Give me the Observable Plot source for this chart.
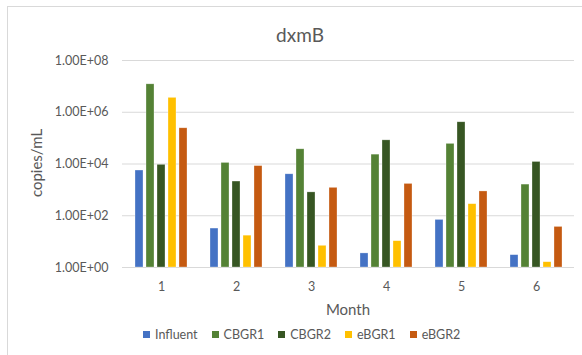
<!DOCTYPE html>
<html>
<head>
<meta charset="utf-8">
<script src="https://cdn.jsdelivr.net/npm/d3@7"></script>
<script src="https://cdn.jsdelivr.net/npm/@observablehq/plot@0.6"></script>
<style>
  html, body { margin: 0; padding: 0; background: #fff; }
  #wrap { position: relative; width: 582px; height: 355px; overflow: hidden; font-family: Lato, "Open Sans", sans-serif; color: #595959; }
  #border { position: absolute; left: 7px; top: 6px; width: 600px; height: 400px; border: 1px solid #d9d9d9; box-sizing: border-box; }
  #title { position: absolute; left: 0; width: 600px; top: 23px; text-align: center; font-size: 19px; }
  #ylabel { position: absolute; left: 36px; top: 163px; transform: translate(-50%, -50%) rotate(-90deg); font-size: 15px; white-space: nowrap; }
  #xlabel { position: absolute; left: 348px; top: 309px; transform: translate(-50%, -50%); font-size: 15px; }
  #legend { position: absolute; left: 143px; top: 327px; display: flex; align-items: center; font-size: 12.5px; white-space: nowrap; }
  .item { display: flex; align-items: center; margin-right: 14px; }
  .sw { width: 7px; height: 7px; margin-right: 5px; }
  .layer { position: absolute; left: 0; top: 0; }
</style>
</head>
<body>
<div id="wrap">
  <div id="border"></div>
  <div id="grid" class="layer"></div>
  <div id="chart" class="layer"></div>
  <div id="title">dxmB</div>
  <div id="ylabel">copies/mL</div>
  <div id="xlabel">Month</div>
  <div id="legend"></div>
</div>
<script>
const months = [1, 2, 3, 4, 5, 6];
const series = ["Influent", "CBGR1", "CBGR2", "eBGR1", "eBGR2"];
const colors = ["#4472C4", "#548235", "#375623", "#FFC000", "#C55A11"];
const influent = [5.6e3, 32, 4.0e3, 3.5, 69, 3.0];
const cbgr1 = [1.2e7, 1.1e4, 3.7e4, 2.3e4, 6.0e4, 1.6e3];
const cbgr2 = [9.3e3, 2.1e3, 800, 8.2e4, 4.1e5, 1.2e4];
const ebgr1 = [3.6e6, 17, 6.9, 10.4, 280, 1.6];
const ebgr2 = [2.4e5, 8.3e3, 1.2e3, 1.7e3, 870, 37];
const yTicks = [1, 1e2, 1e4, 1e6, 1e8];

const values = [influent, cbgr1, cbgr2, ebgr1, ebgr2];
const data = [];
months.forEach((m, i) => series.forEach((s, j) => data.push({month: m, series: s, value: values[j][i]})));

const fmt = d => {
  const e = Math.round(Math.log10(d));
  return "1.00E+" + String(e).padStart(2, "0");
};

const common = {
  width: 582,
  height: 300,
  marginLeft: 122,
  marginRight: 8,
  marginTop: 60,
  marginBottom: 33,
  style: {fontFamily: "Lato, 'Open Sans', sans-serif", color: "#595959", background: "transparent", overflow: "visible"}
};

const grid = Plot.plot({
  ...common,
  y: {type: "log", domain: [1, 1e8], label: null},
  marks: [
    Plot.ruleY(yTicks, {stroke: "#d9d9d9", strokeWidth: 1.2}),
    Plot.axisY({ticks: yTicks, tickFormat: fmt, tickSize: 0, tickPadding: 14, fontSize: 12.5, label: null, color: "#595959"})
  ]
});
document.getElementById("grid").appendChild(grid);

const chart = Plot.plot({
  ...common,
  y: {type: "log", domain: [1, 1e8], axis: null},
  fx: {domain: months, paddingInner: 0.2, paddingOuter: 0.105, label: null, axis: null},
  x: {domain: series, padding: 0.24, axis: null},
  color: {domain: series, range: colors},
  marks: [
    Plot.barY(data, {fx: "month", x: "series", y1: 1, y2: "value", fill: "series", stroke: "#ffffff", strokeOpacity: 0.5, strokeWidth: 0.6}),
    Plot.axisFx({anchor: "bottom", tickSize: 0, tickPadding: 15, fontSize: 12.5, label: null, color: "#595959"})
  ]
});
document.getElementById("chart").appendChild(chart);

const legend = document.getElementById("legend");
series.forEach((s, i) => {
  const it = document.createElement("div");
  it.className = "item";
  const sw = document.createElement("div");
  sw.className = "sw";
  sw.style.background = colors[i];
  const t = document.createElement("span");
  t.textContent = s;
  it.appendChild(sw);
  it.appendChild(t);
  legend.appendChild(it);
});
</script>
</body>
</html>
